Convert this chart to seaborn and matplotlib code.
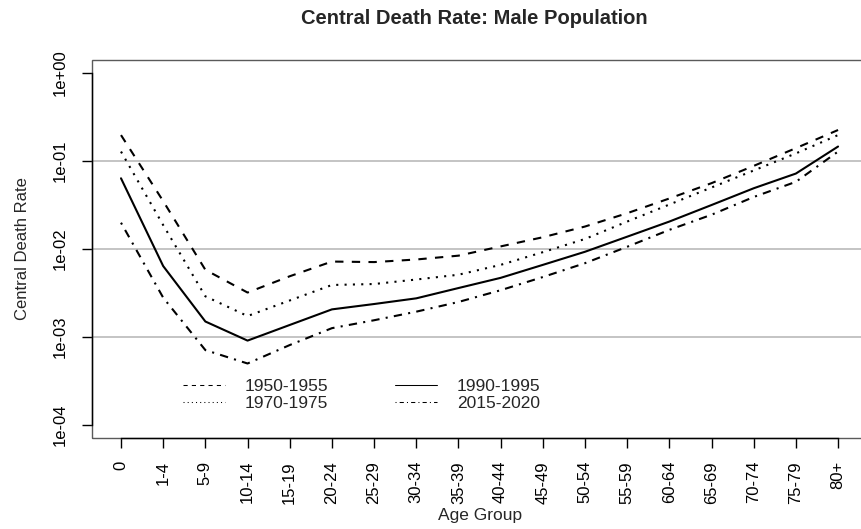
import numpy as np
import pandas as pd
import matplotlib
matplotlib.use("Agg")
import matplotlib.pyplot as plt
import seaborn as sns
from matplotlib.patches import Rectangle
from matplotlib.ticker import NullLocator

# ---------------- data ----------------
age_groups = ["0", "1-4", "5-9", "10-14", "15-19", "20-24", "25-29", "30-34",
              "35-39", "40-44", "45-49", "50-54", "55-59", "60-64", "65-69",
              "70-74", "75-79", "80+"]
periods = ["1950-1955", "1970-1975", "1990-1995", "2015-2020"]

rate_1950_1955 = [0.197, 0.035, 0.0058, 0.0032, 0.0049, 0.0072, 0.0071, 0.0076,
                  0.0084, 0.0107, 0.0136, 0.0180, 0.0255, 0.0375, 0.056, 0.088,
                  0.140, 0.225]
rate_1970_1975 = [0.128, 0.0187, 0.0029, 0.00173, 0.0026, 0.0039, 0.0040, 0.0045,
                  0.0051, 0.0066, 0.0092, 0.0130, 0.0205, 0.032, 0.050, 0.078,
                  0.122, 0.197]
rate_1990_1995 = [0.0636, 0.0064, 0.0015, 0.00091, 0.00137, 0.00206, 0.00237,
                  0.00275, 0.0036, 0.0047, 0.0066, 0.0093, 0.0138, 0.0205,
                  0.0316, 0.049, 0.072, 0.146]
rate_2015_2020 = [0.0199, 0.0028, 0.00071, 0.0005, 0.00081, 0.00126, 0.00155,
                  0.00194, 0.0025, 0.0034, 0.0048, 0.0069, 0.0106, 0.0165,
                  0.0245, 0.039, 0.058, 0.128]

y_ticks = [1e-4, 1e-3, 1e-2, 1e-1, 1e0]
y_tick_labels = ["1e-04", "1e-03", "1e-02", "1e-01", "1e+00"]
grid_levels = [1e-3, 1e-2, 1e-1]

title = "Central Death Rate: Male Population"
x_label = "Age Group"
y_label = "Central Death Rate"

# ---------------- style ----------------
sns.set_style("white")
plt.rcParams["font.family"] = ["Liberation Sans", "DejaVu Sans"]

series = [rate_1950_1955, rate_1970_1975, rate_1990_1995, rate_2015_2020]
rows = []
for p, vals in zip(periods, series):
    for i, (a, v) in enumerate(zip(age_groups, vals)):
        rows.append({"pos": i, "age": a, "period": p, "rate": v})
df = pd.DataFrame(rows)

dashes = {"1950-1955": (4, 4), "1970-1975": (1, 3),
          "1990-1995": "", "2015-2020": (1, 3, 4, 3)}

W, H = 861, 529
fig = plt.figure(figsize=(W / 100, H / 100), dpi=100)
ax = fig.add_axes([92 / W, 1 - 438 / H, 1 - 92 / W, (438 - 60) / H])

sns.lineplot(data=df, x="pos", y="rate", style="period", style_order=periods,
             dashes=dashes, color="black", linewidth=1.5, legend=False,
             estimator=None, sort=False, ax=ax)
handles = list(ax.get_lines())[:4]

for lvl in grid_levels:
    ax.axhline(lvl, color="#C4C4C4", lw=1.4, zorder=0)

ax.set_yscale("log")
step = 42.18
ax.set_xlim(-29 / step, (W - 121) / step)
ax.set_ylim(10 ** (-4 - 13 / 88), 10 ** (13 / 88))
ax.set_yticks(y_ticks)
ax.set_yticklabels(y_tick_labels, rotation=90, va="center")
ax.yaxis.set_minor_locator(NullLocator())
ax.set_xticks(range(len(age_groups)))
ax.set_xticklabels(age_groups, rotation=90)
ax.tick_params(axis="x", which="major", bottom=True, length=7.5, width=1,
               direction="out", pad=9, labelsize=12, color="black",
               labelcolor="black")
ax.tick_params(axis="y", which="major", left=True, length=7.5, width=1,
               direction="out", pad=10, labelsize=12, color="black",
               labelcolor="black")

for s in ["top", "right"]:
    ax.spines[s].set_visible(False)
ax.spines["left"].set_bounds(y_ticks[0], y_ticks[-1])
ax.spines["bottom"].set_bounds(0, len(age_groups) - 1)
for s in ["left", "bottom"]:
    ax.spines[s].set_color("black")
    ax.spines[s].set_linewidth(1)
    ax.spines[s].set_zorder(3)

box = Rectangle((0, 0), 1.05, 1, transform=ax.transAxes, fill=False,
                edgecolor="#5a5a5a", lw=1, clip_on=False, zorder=2.4)
ax.add_artist(box)

ax.set_xlabel(x_label, fontsize=12.5)
ax.set_ylabel(y_label, fontsize=12)
ax.xaxis.set_label_coords((480 - 92) / (W - 92), (438 - 508) / 378)
ax.yaxis.set_label_coords((30 - 92) / (W - 92), 0.5)

fig.text(474 / W, 1 - 18 / H, title, ha="center", va="center",
         fontsize=14.5, fontweight="bold")

leg = ax.legend(handles, periods, ncol=2, frameon=False, loc="upper left",
                bbox_to_anchor=(183 / W, 1 - 379 / H),
                bbox_transform=fig.transFigure, borderpad=0, borderaxespad=0,
                handlelength=2.4, handletextpad=1.15, columnspacing=3.85,
                labelspacing=0.12, fontsize=12.5)
for ln in leg.get_lines():
    ln.set_linewidth(0.75)

fig.savefig("out.png", dpi=100)
